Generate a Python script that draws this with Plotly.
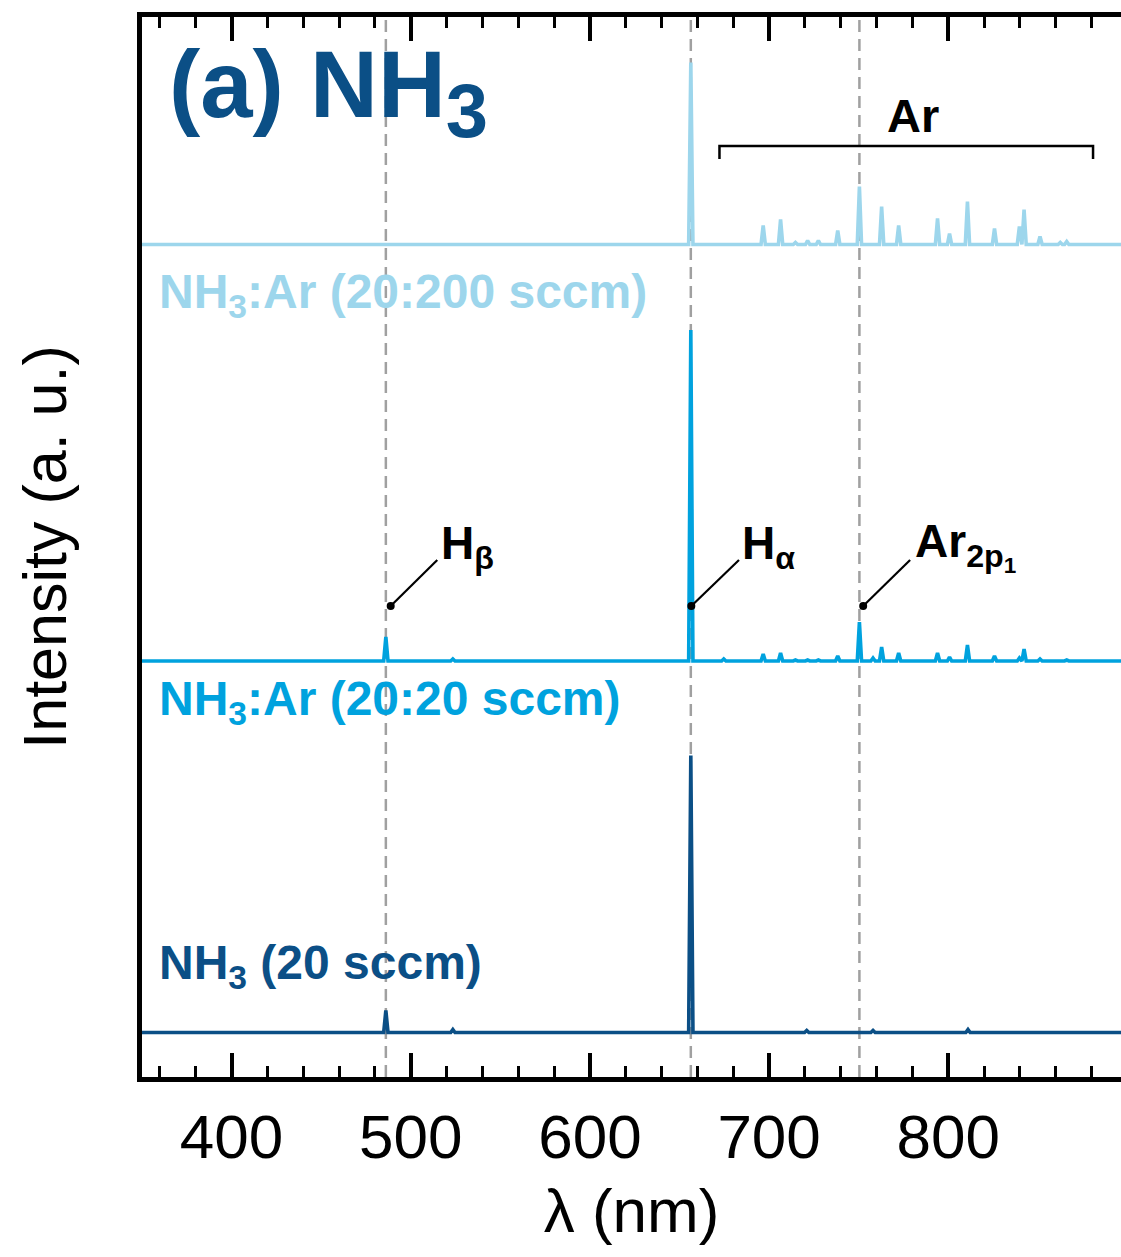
import plotly.graph_objects as go

# ---------------- data ----------------
# wavelength range of x-axis (nm)
x_range = [350, 896.4]
x_major_ticks = [400, 500, 600, 700, 800]

# reference lines (nm): H-beta, H-alpha, Ar 2p1
ref_lines = [486.1, 656.3, 750.4]

# peak positions (nm) and heights (a.u.) above each spectrum's baseline
# NH3 (20 sccm)
nh3_peaks_nm = [486.1, 523.5, 656.3, 721.0, 758.0, 811.0]
nh3_peaks_h = [22, 3, 277, 2, 2, 3]
nh3_offset = 44.5

# NH3:Ar (20:20 sccm)
mid_peaks_nm = [486.1, 523.5, 656.3, 674.7, 696.7, 706.4, 714.7, 721.5, 727.5, 738.3,
                750.4, 758.0, 762.8, 772.3, 794.0, 800.7, 810.7, 825.8, 839.7, 842.3,
                851.2, 866.1]
mid_peaks_h = [24, 2, 331, 2, 7, 8, 1, 1, 1, 5,
               39, 3, 14, 8, 8, 4, 16, 5, 3, 12,
               2, 1]
mid_offset = 416

# NH3:Ar (20:200 sccm)
top_peaks_nm = [656.3, 696.7, 706.4, 714.7, 721.5, 727.5, 738.3, 750.4, 762.8, 772.3,
                794.0, 800.7, 810.7, 825.8, 839.7, 842.3, 851.2, 862.5, 866.1]
top_peaks_h = [182, 19, 25, 2, 4, 4, 14, 58, 38, 19,
               26, 11, 43, 16, 18, 35, 8, 2, 3]
top_offset = 832.5

series_names = ["NH<sub>3</sub> (20 sccm)", "NH<sub>3</sub>:Ar (20:20 sccm)",
                "NH<sub>3</sub>:Ar (20:200 sccm)"]

# ---------------- styles ----------------
C_DARK = "#0B4F86"
C_MID = "#00A2DE"
C_LIGHT = "#9DD6EC"
FONT = "Liberation Sans, Arial, sans-serif"
HALF_W = 1.2  # peak half base width in nm


def spectrum(peaks_nm, peaks_h, offset):
    pts = sorted(zip(peaks_nm, peaks_h))
    xs, ys = [x_range[0]], [offset]
    for c, h in pts:
        xs += [c - HALF_W, c, c + HALF_W]
        ys += [offset, offset + h, offset]
    xs.append(x_range[1])
    ys.append(offset)
    return xs, ys


fig = go.Figure()

# dashed reference lines
for xv in ref_lines:
    fig.add_shape(type="line", xref="x", yref="paper", x0=xv, x1=xv, y0=0, y1=1,
                  line=dict(color="#A0A0A0", width=2.5, dash="12px,7px"), layer="below")

for name, (pn, ph, off), col in zip(
        series_names,
        [(nh3_peaks_nm, nh3_peaks_h, nh3_offset),
         (mid_peaks_nm, mid_peaks_h, mid_offset),
         (top_peaks_nm, top_peaks_h, top_offset)],
        [C_DARK, C_MID, C_LIGHT]):
    xs, ys = spectrum(pn, ph, off)
    fig.add_trace(go.Scatter(x=xs, y=ys, mode="lines", name=name,
                             line=dict(color=col, width=3.6), showlegend=False))

# leader lines with dots for peak labels
dots_x = [488.8, 656.6, 752.5]
ends_x = [514.8, 683.2, 778.7]
dot_y, end_y = 471, 517
for dx, ex in zip(dots_x, ends_x):
    fig.add_shape(type="line", xref="x", yref="y", x0=dx, y0=dot_y, x1=ex, y1=end_y,
                  line=dict(color="black", width=2.2))
fig.add_trace(go.Scatter(x=dots_x, y=[dot_y] * 3, mode="markers",
                         marker=dict(color="black", size=8), showlegend=False,
                         hoverinfo="skip"))

# Ar bracket
br_x0, br_x1, br_y, br_y_end = 672.3, 880.8, 931, 918
fig.add_shape(type="path", xref="x", yref="y",
              path=f"M {br_x0},{br_y_end} L {br_x0},{br_y} L {br_x1},{br_y} L {br_x1},{br_y_end}",
              line=dict(color="black", width=2.5))

ann = []
# title
ann.append(dict(x=364.0, y=985, xref="x", yref="y", xanchor="left", yanchor="middle",
                text="<b>(a) NH<sub><span style='font-size:76px'>3</span></sub></b>",
                showarrow=False, font=dict(family=FONT, size=94, color=C_DARK)))
# series labels
for txt, yv, col in [(series_names[2], 782, C_LIGHT),
                     (series_names[1], 375, C_MID),
                     (series_names[0], 111, C_DARK)]:
    ann.append(dict(x=358.4, y=yv, xref="x", yref="y", xanchor="left", yanchor="middle",
                    text=f"<b>{txt}</b>", showarrow=False,
                    font=dict(family=FONT, size=48, color=col)))
# Ar label
ann.append(dict(x=780.4, y=962, xref="x", yref="y", xanchor="center", yanchor="middle",
                text="<b>Ar</b>", showarrow=False, font=dict(family=FONT, size=47, color="black")))
# peak labels
for txt, xv in [("H<sub>β</sub>", 515.6), ("H<sub>α</sub>", 684.0),
                ("Ar<sub>2p<sub>1</sub></sub>", 780.4)]:
    ann.append(dict(x=xv, y=531, xref="x", yref="y", xanchor="left", yanchor="middle",
                    text=f"<b>{txt}</b>", showarrow=False,
                    font=dict(family=FONT, size=46, color="black")))

fig.update_layout(
    width=1121, height=1257,
    margin=dict(l=142, r=0, t=17, b=180),
    paper_bgcolor="white", plot_bgcolor="white",
    font=dict(family=FONT, color="black"),
    annotations=ann,
    xaxis=dict(range=x_range, tickvals=x_major_ticks, ticks="inside", ticklen=24,
               tickwidth=4, tickcolor="black", showline=True, linewidth=5, linecolor="black",
               mirror="ticks", showgrid=False, zeroline=False,
               tickfont=dict(size=62, family=FONT), ticklabelstandoff=2,
               minor=dict(dtick=20, tick0=0, ticks="inside", ticklen=11, tickwidth=3,
                          tickcolor="black", showgrid=False),
               title=dict(text="λ (nm)", font=dict(size=62, family=FONT), standoff=20)),
    yaxis=dict(range=[0, 1060], showticklabels=False, ticks="", showline=True,
               linewidth=5, linecolor="black", showgrid=False, zeroline=False,
               title=dict(text="Intensity (a. u.)", font=dict(size=61, family=FONT),
                          standoff=52)),
)

fig.write_html("out.html")
